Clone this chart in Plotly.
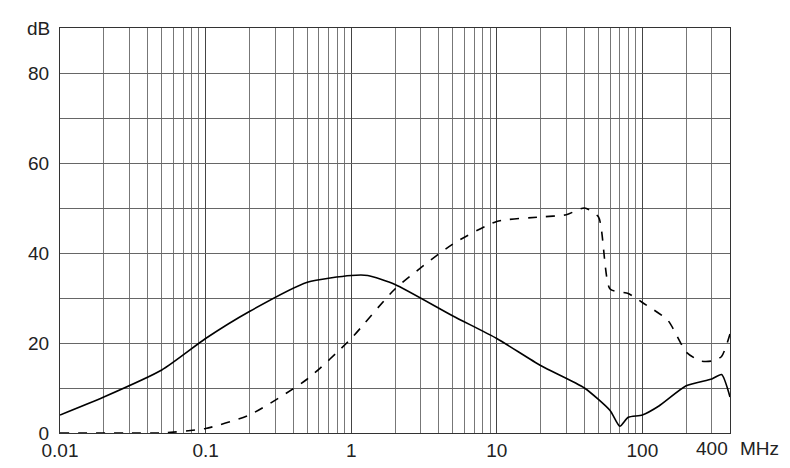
import plotly.graph_objects as go
import numpy as np

f_solid = [0.01,0.02,0.05,0.1,0.2,0.5,1,1.3,2,5,10,20,40,60,70,80,100,130,200,300,350,400]
db_solid = [4,8,14,21,27,33.5,35,35,33,26,21,15,10,5,1.5,3.5,4,6,10.5,12,13,8]
f_dash = [0.01,0.03,0.05,0.1,0.2,0.5,1,2,5,10,20,30,40,50,60,80,100,150,200,250,300,350,400]
db_dash = [0,0,0,1,4,12,21,32,42,47,48,48.5,50,48,32,31,29,25,18,16,16,17,22]
xticks = [0.01,0.1,1,10,100]
xlabels = ["0.01","0.1","1","10","100"]
yticks = [0,20,40,60,80]

fig = go.Figure()
fig.add_trace(go.Scatter(x=f_solid, y=db_solid, mode="lines", line=dict(color="black", width=1.6, shape="spline", smoothing=0.6)))
fig.add_trace(go.Scatter(x=f_dash, y=db_dash, mode="lines", line=dict(color="black", width=1.6, dash="dash", shape="spline", smoothing=0.6)))
fig.update_layout(
    width=790, height=468, margin=dict(l=52, r=68, t=20, b=43),
    plot_bgcolor="white", paper_bgcolor="white", showlegend=False,
    font=dict(family="Liberation Sans", size=19, color="#222"),
)
fig.update_xaxes(type="log", range=[-2, np.log10(400)], tickvals=xticks, ticktext=xlabels,
                 showgrid=True, gridcolor="#444", gridwidth=1.2,
                 minor=dict(dtick="D1", showgrid=True, gridcolor="#777", gridwidth=0.8),
                 showline=True, linecolor="#333", mirror=True, ticks="")
fig.update_yaxes(range=[0, 90], tickvals=yticks, showgrid=True, gridcolor="#666",
                 minor=dict(dtick=10, showgrid=True, gridcolor="#666"), ticklabelstandoff=6,
                 showline=True, linecolor="#333", mirror=True, ticks="", zeroline=False)
fig.add_annotation(text="400", xref="x", yref="paper", x=np.log10(400), y=0, xanchor="right", yanchor="top",
                   yshift=-3, showarrow=False, font=dict(size=19))
fig.add_annotation(text="MHz", xref="paper", yref="paper", x=1.0, y=0, xanchor="left", yanchor="top",
                   xshift=8, yshift=-3, showarrow=False, font=dict(size=19))
fig.add_annotation(text="dB", xref="paper", yref="paper", x=0, y=1.0, xanchor="right", yanchor="middle",
                   xshift=-8, showarrow=False, font=dict(size=19))
fig.write_html("out.html")
